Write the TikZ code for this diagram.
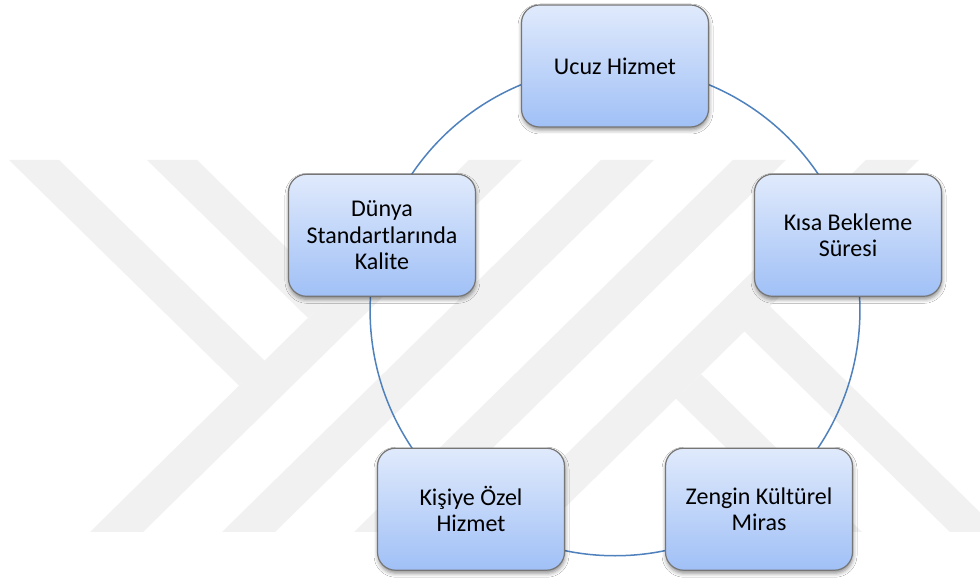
\documentclass[tikz,border=0pt]{standalone}
\usepackage{fontspec}
\setmainfont{Carlito}
\usetikzlibrary{calc, backgrounds, shadows.blur}
\definecolor{ringblue}{RGB}{79,129,189}
\definecolor{boxtop}{RGB}{224,234,252}
\definecolor{boxbottom}{RGB}{160,192,246}
\definecolor{boxline}{RGB}{118,118,118}
\definecolor{markgray}{RGB}{241,241,241}
\tikzstyle{factor} = [rectangle, rounded corners=18pt,
minimum width=187pt,
minimum height=122pt,
text centered,
align=center,
font=\fontsize{24}{26.5}\selectfont,
draw=boxline, line width=1.2pt,
top color=boxtop, bottom color=boxbottom,
blur shadow={shadow xshift=0.5pt, shadow yshift=-3pt,
shadow blur radius=4pt, shadow opacity=45}]
\tikzstyle{ring} = [draw=ringblue, line width=1.5pt, looseness=0.94]
\tikzstyle{stripe} = [fill=markgray]

\begin{document}
\begin{tikzpicture}[x=1pt, y=1pt]
\useasboundingbox (0,0) rectangle (980,581);
\coordinate (hub) at (615,270);

\node (ucuz) [factor] at ($(hub)+(90:245)$) {Ucuz Hizmet};
\node (kisa) [factor] at ($(hub)+(18:245)$) {Kısa Bekleme\\Süresi};
\node (miras) [factor] at ($(hub)+(-54:245)$) {Zengin Kültürel\\Miras};
\node (ozel) [factor] at ($(hub)+(-126:245)$) {Kişiye Özel\\Hizmet};
\node (kalite) [factor] at ($(hub)+(162:245)$) {Dünya\\Standartlarında\\Kalite};

\begin{scope}[on background layer]
\fill[white] (0,0) rectangle (980,581);
% watermark stripes
\begin{scope}
\clip (0,0) rectangle (980,581);
\foreach \l in {306,438,570,703}
  \fill[stripe] (\l-216,49) -- (\l-163,49) -- (\l+216,421) -- (\l+163,421) -- cycle;
\fill[stripe] (9,421) -- (59,421) -- (265,220) -- (239,195.4) -- cycle;
\fill[stripe] (147,421) -- (197,421) -- (333,287.6) -- (308,263.1) -- cycle;
\fill[stripe] (1000,49) -- (950,49) -- (744,250) -- (770,274.6) -- cycle;
\fill[stripe] (862,49) -- (812,49) -- (676,182.4) -- (701,206.9) -- cycle;
\end{scope}
% ring
\draw [ring] (ucuz.center) to[out=0, in=108] (kisa.center);
\draw [ring] (kisa.center) to[out=-72, in=36] (miras.center);
\draw [ring] (miras.center) to[out=-144, in=-36] (ozel.center);
\draw [ring] (ozel.center) to[out=144, in=-108] (kalite.center);
\draw [ring] (kalite.center) to[out=72, in=180] (ucuz.center);
\end{scope}
\end{tikzpicture}
\end{document}
